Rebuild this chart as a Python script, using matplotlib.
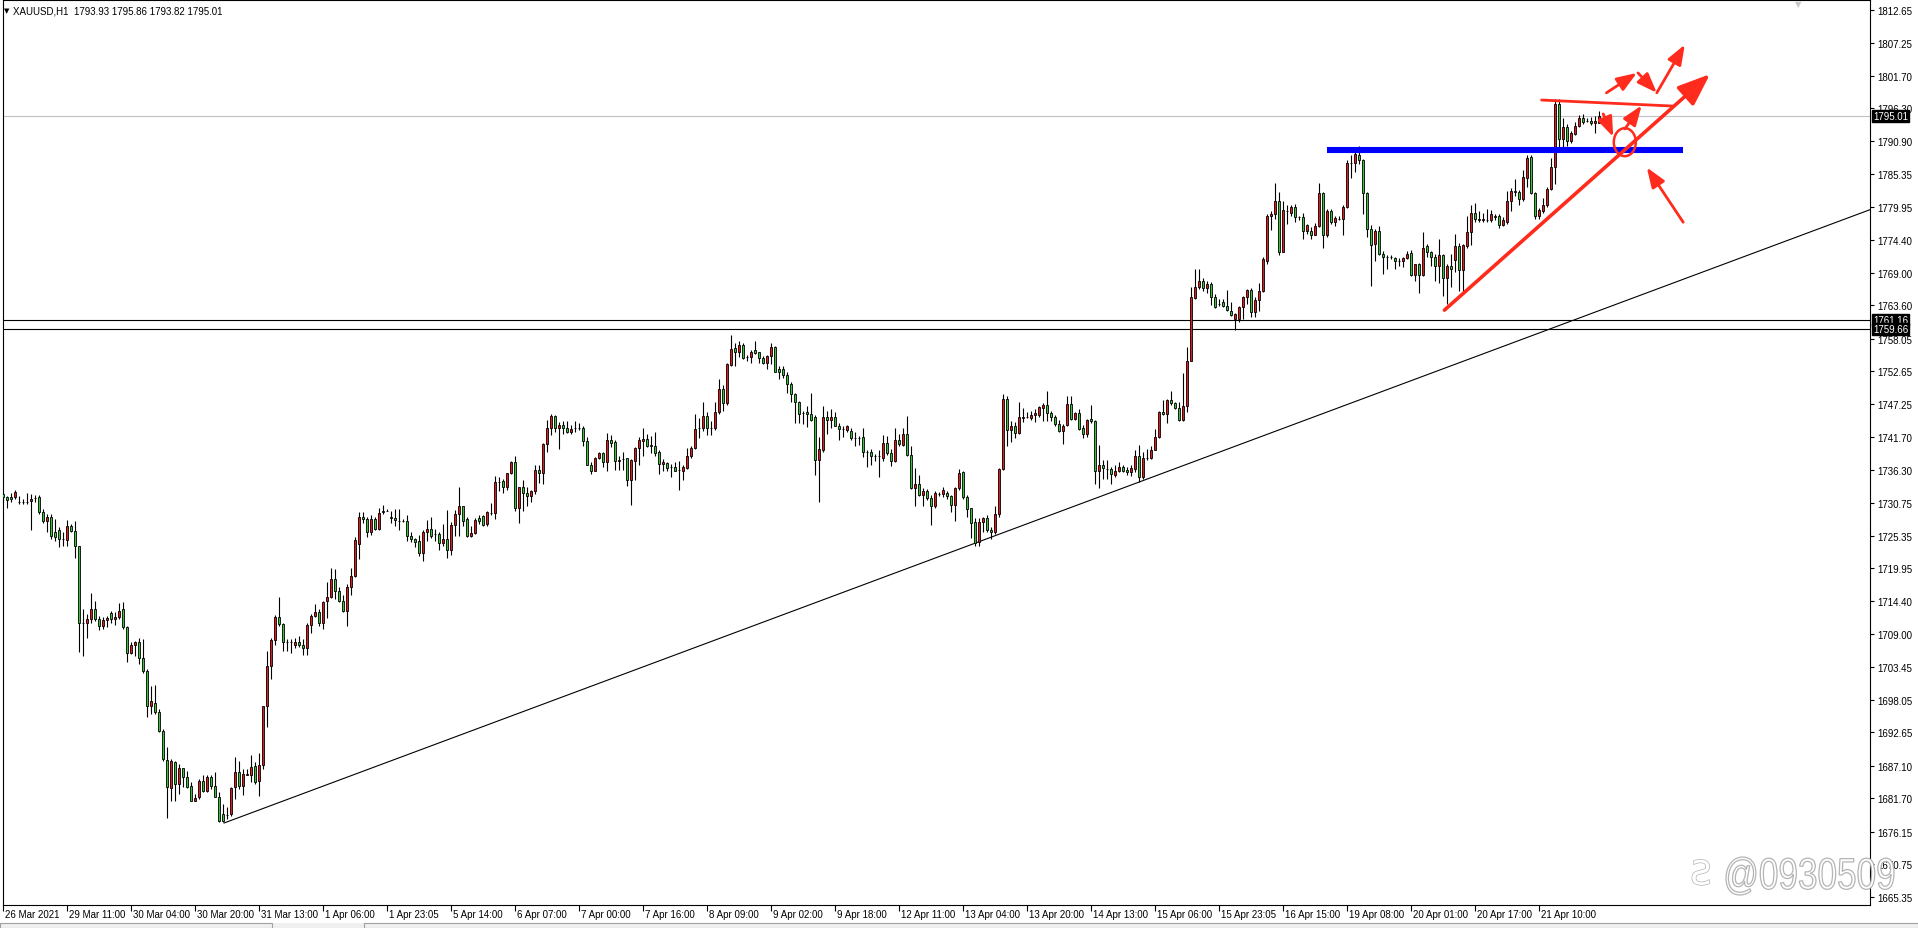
import numpy as np
import matplotlib
matplotlib.use("Agg")
import matplotlib.pyplot as plt
import matplotlib.transforms as mtransforms
from matplotlib.patches import Ellipse, Rectangle, PathPatch
from matplotlib.textpath import TextPath
from matplotlib.font_manager import FontProperties
import matplotlib.patheffects as pe

plt.rcParams['font.family'] = ['Liberation Sans', 'DejaVu Sans']

# XAUUSD H1 candles (bar 0 = 26 Mar 2021)
opens = [
    1732.2, 1731.7, 1731.7, 1731.7, 1731.0, 1731.0, 1731.0, 1731.1, 1731.6, 1731.7,
    1729.2, 1727.7, 1728.4, 1725.9, 1726.3, 1724.7, 1724.6, 1726.9, 1726.1, 1723.7,
    1710.9, 1710.8, 1711.5, 1713.2, 1711.5, 1710.4, 1711.4, 1712.5, 1711.5, 1711.8,
    1713.1, 1710.1, 1705.9, 1707.1, 1707.6, 1705.0, 1702.9, 1697.0, 1697.6, 1696.0,
    1692.9, 1688.1, 1683.4, 1687.8, 1684.1, 1686.7, 1685.2, 1683.7, 1681.3, 1681.9,
    1684.5, 1683.0, 1685.2, 1683.8, 1681.9, 1679.1, 1679.0, 1679.1, 1683.5, 1686.0,
    1683.7, 1685.6, 1685.6, 1687.0, 1684.5, 1687.2, 1697.0, 1703.7, 1708.0, 1711.9,
    1710.7, 1707.6, 1707.6, 1707.2, 1707.7, 1707.2, 1706.6, 1710.5, 1712.0, 1712.6,
    1710.9, 1714.4, 1715.2, 1718.2, 1716.1, 1714.5, 1712.9, 1716.8, 1718.6, 1723.9,
    1728.5, 1728.1, 1725.9, 1728.1, 1726.4, 1729.2, 1729.5, 1728.5, 1728.3, 1727.7,
    1727.7, 1727.7, 1725.2, 1724.8, 1724.4, 1722.4, 1725.9, 1726.4, 1725.6, 1725.6,
    1724.1, 1724.8, 1723.0, 1727.1, 1728.9, 1730.2, 1728.1, 1725.2, 1725.7, 1728.3,
    1728.6, 1727.2, 1729.1, 1729.1, 1734.3, 1734.4, 1733.4, 1735.7, 1737.5, 1729.9,
    1733.4, 1732.5, 1731.9, 1732.7, 1736.2, 1735.7, 1740.6, 1743.3, 1745.2, 1743.2,
    1743.7, 1743.3, 1742.5, 1743.2, 1743.2, 1743.2, 1741.0, 1737.1, 1736.1, 1738.2,
    1739.0, 1737.5, 1741.2, 1740.9, 1737.7, 1738.1, 1738.2, 1734.5, 1737.8, 1739.9,
    1741.1, 1741.4, 1740.4, 1740.2, 1739.2, 1737.3, 1737.4, 1736.8, 1736.8, 1736.2,
    1736.1, 1736.6, 1738.5, 1739.9, 1743.2, 1743.2, 1745.2, 1743.2, 1743.2, 1745.8,
    1749.7, 1747.4, 1753.7, 1756.5, 1755.8, 1757.0, 1755.0, 1755.0, 1756.2, 1755.8,
    1754.8, 1754.1, 1755.1, 1756.6, 1753.1, 1753.1, 1752.1, 1750.5, 1748.9, 1747.5,
    1745.7, 1745.9, 1745.5, 1745.0, 1737.9, 1739.6, 1745.0, 1744.6, 1745.0, 1743.6,
    1743.0, 1742.9, 1742.7, 1741.5, 1741.6, 1741.7, 1739.3, 1739.3, 1738.5, 1738.5,
    1738.3, 1740.8, 1739.0, 1737.8, 1741.3, 1740.4, 1742.3, 1738.8, 1733.2, 1733.9,
    1732.1, 1732.8, 1731.6, 1730.2, 1732.3, 1732.3, 1732.5, 1731.9, 1730.5, 1733.2,
    1735.9, 1731.7, 1729.9, 1727.6, 1724.2, 1727.6, 1728.2, 1726.2, 1725.9, 1729.0,
    1736.4, 1748.1, 1742.9, 1743.6, 1742.4, 1744.9, 1745.0, 1744.9, 1745.3, 1745.3,
    1746.5, 1747.0, 1745.7, 1745.1, 1743.9, 1742.7, 1743.7, 1747.2, 1744.7, 1745.7,
    1743.2, 1742.3, 1744.7, 1744.3, 1736.1, 1737.1, 1736.4, 1736.4, 1735.4, 1736.1,
    1736.8, 1736.2, 1735.9, 1736.4, 1738.6, 1735.0, 1738.2, 1738.2, 1739.6, 1741.7,
    1745.9, 1745.5, 1747.8, 1747.4, 1746.6, 1744.6, 1746.8, 1754.4, 1764.8, 1766.6,
    1767.6, 1766.4, 1767.1, 1764.9, 1763.8, 1764.1, 1763.5, 1762.6, 1761.3, 1761.3,
    1763.3, 1764.9, 1766.1, 1762.5, 1764.5, 1766.0, 1771.0, 1778.4, 1778.7, 1781.0,
    1772.5, 1779.3, 1778.9, 1780.0, 1778.2, 1778.2, 1776.0, 1776.0, 1775.3, 1776.7,
    1782.3, 1775.2, 1779.2, 1777.4, 1777.9, 1777.9, 1780.0, 1787.2, 1787.2, 1788.6,
    1787.7, 1782.2, 1776.3, 1773.8, 1776.0, 1772.2, 1771.6, 1771.6, 1771.5, 1771.0,
    1771.0, 1771.5, 1772.3, 1768.7, 1770.4, 1768.7, 1773.4, 1772.4, 1771.7, 1770.2,
    1772.0, 1768.2, 1770.2, 1771.1, 1773.4, 1769.5, 1773.5, 1775.7, 1778.9, 1778.0,
    1777.7, 1777.8, 1777.7, 1778.5, 1778.4, 1777.0, 1777.4, 1781.0, 1782.6, 1782.4,
    1781.2, 1784.7, 1788.2, 1782.2, 1778.4, 1779.3, 1780.3, 1783.0, 1786.5, 1797.0,
    1791.2, 1793.2, 1790.9, 1792.1, 1793.4, 1794.7, 1794.3, 1794.3, 1793.9, 1793.93,
]
highs = [
    1732.5, 1732.0, 1732.5, 1732.9, 1732.0, 1731.4, 1732.5, 1732.3, 1732.1, 1732.1,
    1729.8, 1728.9, 1728.9, 1728.1, 1726.7, 1725.9, 1728.0, 1727.3, 1727.8, 1723.7,
    1713.2, 1712.3, 1715.8, 1714.5, 1712.0, 1711.8, 1712.0, 1712.9, 1712.6, 1714.2,
    1714.3, 1710.4, 1707.7, 1707.9, 1708.3, 1708.2, 1703.2, 1700.4, 1700.5, 1696.5,
    1693.2, 1690.2, 1688.2, 1687.9, 1687.4, 1686.8, 1686.3, 1684.4, 1682.4, 1684.9,
    1685.5, 1685.6, 1685.5, 1686.0, 1682.7, 1680.8, 1680.2, 1683.5, 1688.5, 1687.9,
    1686.6, 1686.6, 1688.9, 1687.7, 1689.3, 1697.1, 1706.1, 1708.4, 1712.2, 1715.1,
    1710.9, 1708.2, 1708.2, 1708.3, 1708.7, 1708.1, 1710.8, 1712.3, 1714.0, 1713.2,
    1714.5, 1717.6, 1719.9, 1719.8, 1716.8, 1715.4, 1717.3, 1719.9, 1725.1, 1729.3,
    1729.3, 1728.4, 1728.7, 1728.4, 1730.0, 1730.4, 1729.7, 1729.5, 1729.7, 1729.8,
    1728.1, 1728.7, 1725.9, 1724.9, 1725.5, 1726.2, 1727.9, 1728.4, 1726.4, 1725.9,
    1727.3, 1729.6, 1727.6, 1729.6, 1733.5, 1730.3, 1728.4, 1727.0, 1728.3, 1728.7,
    1728.8, 1729.5, 1730.7, 1735.2, 1735.0, 1734.8, 1735.8, 1737.7, 1738.5, 1733.5,
    1734.5, 1733.4, 1732.9, 1737.1, 1737.0, 1740.7, 1744.5, 1745.5, 1745.4, 1744.2,
    1744.3, 1744.3, 1743.8, 1744.3, 1744.1, 1743.6, 1741.8, 1737.6, 1738.4, 1739.2,
    1739.3, 1742.4, 1742.1, 1741.3, 1738.6, 1739.2, 1738.3, 1738.1, 1740.0, 1741.8,
    1743.2, 1742.2, 1741.9, 1742.6, 1739.5, 1738.0, 1737.5, 1737.2, 1737.5, 1737.8,
    1737.0, 1739.9, 1740.3, 1745.5, 1744.9, 1747.6, 1745.9, 1744.3, 1747.5, 1751.4,
    1750.3, 1754.0, 1758.7, 1757.3, 1757.7, 1757.3, 1755.4, 1756.1, 1757.7, 1755.9,
    1755.2, 1755.4, 1757.3, 1756.8, 1753.5, 1753.6, 1752.5, 1750.8, 1749.0, 1747.7,
    1746.0, 1746.8, 1749.0, 1745.3, 1741.7, 1746.9, 1746.0, 1746.4, 1745.8, 1744.0,
    1743.5, 1743.7, 1743.3, 1742.6, 1741.9, 1743.3, 1739.6, 1739.7, 1738.9, 1739.5,
    1742.1, 1741.9, 1739.7, 1743.3, 1742.2, 1743.3, 1745.2, 1740.2, 1736.5, 1735.4,
    1733.2, 1733.1, 1732.1, 1732.8, 1732.6, 1733.4, 1732.8, 1732.1, 1733.4, 1736.4,
    1736.1, 1732.1, 1730.0, 1728.2, 1728.2, 1728.5, 1728.7, 1726.7, 1730.2, 1736.5,
    1748.8, 1748.6, 1744.3, 1744.2, 1747.5, 1746.6, 1745.9, 1746.1, 1746.4, 1746.9,
    1747.4, 1749.3, 1746.0, 1745.4, 1744.5, 1743.9, 1748.6, 1748.6, 1745.9, 1746.4,
    1743.7, 1744.7, 1747.0, 1744.6, 1740.4, 1737.9, 1737.9, 1736.7, 1737.1, 1737.5,
    1737.1, 1736.7, 1737.1, 1739.6, 1740.4, 1739.2, 1739.7, 1740.3, 1743.0, 1746.1,
    1747.8, 1748.0, 1749.3, 1747.6, 1747.5, 1752.4, 1756.6, 1766.7, 1769.7, 1769.6,
    1768.2, 1767.7, 1767.4, 1765.4, 1764.6, 1764.6, 1766.1, 1764.1, 1762.3, 1763.5,
    1765.2, 1766.3, 1766.5, 1765.0, 1767.3, 1771.6, 1778.8, 1779.3, 1783.9, 1782.5,
    1781.0, 1780.2, 1780.2, 1780.4, 1778.5, 1779.0, 1777.1, 1776.6, 1777.2, 1783.9,
    1782.4, 1779.6, 1779.6, 1778.5, 1778.5, 1780.2, 1787.7, 1788.5, 1789.9, 1790.1,
    1787.9, 1782.5, 1777.0, 1776.3, 1776.8, 1772.7, 1772.0, 1772.0, 1771.7, 1771.5,
    1771.7, 1772.7, 1772.8, 1770.5, 1770.6, 1775.7, 1773.8, 1772.7, 1772.1, 1774.6,
    1772.1, 1770.5, 1772.2, 1775.4, 1773.9, 1773.8, 1778.5, 1780.2, 1780.6, 1779.3,
    1779.0, 1779.6, 1779.4, 1778.8, 1778.8, 1778.2, 1782.6, 1783.1, 1784.6, 1782.8,
    1786.0, 1788.5, 1788.6, 1782.4, 1779.7, 1781.5, 1783.2, 1788.1, 1797.9, 1797.9,
    1794.8, 1793.8, 1792.6, 1794.0, 1795.2, 1795.3, 1794.7, 1794.9, 1795.1, 1795.86,
]
lows = [
    1730.9, 1730.0, 1730.9, 1731.5, 1730.6, 1730.6, 1730.6, 1726.2, 1730.9, 1728.9,
    1727.4, 1725.9, 1724.8, 1724.5, 1723.5, 1723.7, 1723.7, 1725.9, 1721.7, 1706.0,
    1705.4, 1708.4, 1710.9, 1711.2, 1709.6, 1709.9, 1710.1, 1710.9, 1710.5, 1711.5,
    1709.9, 1704.4, 1705.7, 1705.4, 1704.0, 1702.5, 1695.2, 1695.7, 1695.7, 1692.7,
    1687.9, 1678.4, 1681.3, 1681.3, 1682.4, 1683.5, 1683.4, 1681.2, 1681.2, 1681.6,
    1682.7, 1682.7, 1683.3, 1681.9, 1677.8, 1677.8, 1678.3, 1678.8, 1681.6, 1683.3,
    1682.2, 1685.5, 1684.4, 1684.1, 1682.1, 1686.6, 1693.5, 1701.5, 1707.1, 1710.4,
    1706.2, 1706.1, 1705.8, 1706.6, 1706.8, 1705.5, 1705.5, 1709.2, 1711.8, 1710.4,
    1709.9, 1711.6, 1714.9, 1714.8, 1714.3, 1712.7, 1710.3, 1715.4, 1718.4, 1721.4,
    1727.5, 1725.1, 1725.4, 1726.2, 1726.2, 1728.9, 1729.4, 1727.4, 1727.0, 1726.3,
    1727.6, 1724.4, 1724.2, 1723.4, 1722.0, 1721.1, 1724.5, 1724.9, 1724.4, 1723.0,
    1723.7, 1721.7, 1722.2, 1725.3, 1725.3, 1727.0, 1725.1, 1725.1, 1725.6, 1727.3,
    1727.0, 1727.0, 1728.8, 1728.1, 1732.8, 1732.4, 1733.0, 1735.6, 1729.5, 1727.5,
    1729.4, 1730.2, 1730.9, 1732.3, 1734.1, 1733.9, 1739.2, 1742.1, 1742.5, 1739.7,
    1742.2, 1742.4, 1742.3, 1742.5, 1742.9, 1740.3, 1737.0, 1735.6, 1736.0, 1738.0,
    1736.7, 1736.1, 1740.1, 1736.3, 1736.2, 1736.3, 1733.6, 1730.5, 1734.5, 1737.0,
    1738.6, 1740.1, 1739.0, 1738.5, 1735.5, 1736.0, 1736.0, 1735.1, 1736.0, 1733.0,
    1734.6, 1736.4, 1738.2, 1739.7, 1741.6, 1742.8, 1742.1, 1742.1, 1742.9, 1745.5,
    1746.0, 1747.1, 1753.5, 1753.5, 1755.0, 1754.7, 1754.4, 1754.1, 1755.5, 1754.0,
    1753.9, 1753.1, 1753.9, 1752.5, 1751.3, 1751.5, 1749.1, 1747.6, 1744.0, 1744.0,
    1743.9, 1743.4, 1744.4, 1735.4, 1731.0, 1739.3, 1742.2, 1743.2, 1743.5, 1741.3,
    1741.7, 1742.6, 1741.3, 1740.2, 1740.4, 1738.4, 1736.7, 1737.0, 1737.8, 1735.1,
    1737.8, 1738.7, 1736.9, 1737.5, 1740.3, 1740.3, 1738.6, 1733.1, 1730.3, 1731.9,
    1730.3, 1731.3, 1727.1, 1730.0, 1732.0, 1731.7, 1731.5, 1729.2, 1727.8, 1733.0,
    1731.4, 1728.4, 1724.9, 1723.6, 1723.7, 1725.9, 1726.0, 1724.8, 1725.6, 1728.4,
    1736.2, 1740.2, 1740.9, 1741.6, 1742.2, 1744.2, 1744.8, 1744.5, 1744.2, 1745.1,
    1744.3, 1744.3, 1744.4, 1743.5, 1742.5, 1740.6, 1743.6, 1744.5, 1744.6, 1742.9,
    1741.5, 1741.7, 1744.0, 1733.9, 1733.2, 1734.7, 1734.7, 1733.9, 1735.1, 1735.9,
    1735.9, 1735.4, 1735.2, 1735.9, 1734.3, 1734.7, 1737.9, 1738.0, 1739.5, 1741.5,
    1745.3, 1744.1, 1747.1, 1746.4, 1744.4, 1744.4, 1745.8, 1754.3, 1764.6, 1766.3,
    1765.9, 1765.6, 1763.7, 1763.2, 1763.5, 1763.4, 1762.7, 1761.9, 1759.5, 1760.9,
    1761.3, 1763.9, 1761.6, 1761.6, 1762.6, 1765.8, 1770.4, 1776.1, 1777.9, 1772.0,
    1772.4, 1777.1, 1778.5, 1777.5, 1777.7, 1774.6, 1775.4, 1774.6, 1775.2, 1776.6,
    1773.1, 1774.9, 1777.1, 1776.8, 1777.8, 1775.3, 1779.8, 1784.7, 1785.7, 1787.1,
    1778.8, 1774.9, 1766.8, 1770.9, 1772.0, 1768.8, 1769.6, 1771.3, 1769.6, 1770.2,
    1770.0, 1771.3, 1768.5, 1767.7, 1765.6, 1768.5, 1771.7, 1770.2, 1767.7, 1767.3,
    1765.2, 1763.8, 1766.6, 1769.1, 1766.0, 1766.0, 1773.2, 1773.7, 1777.5, 1777.5,
    1777.4, 1777.5, 1777.4, 1777.7, 1776.5, 1776.7, 1777.1, 1779.2, 1781.8, 1780.3,
    1781.0, 1783.2, 1782.1, 1777.9, 1778.0, 1779.0, 1779.9, 1782.8, 1783.8, 1789.4,
    1789.9, 1790.1, 1790.6, 1791.9, 1793.2, 1793.8, 1794.0, 1793.6, 1792.3, 1793.82,
]
closes = [
    1731.8, 1731.3, 1731.4, 1732.6, 1731.0, 1731.0, 1731.0, 1731.5, 1731.6, 1729.2,
    1727.7, 1728.4, 1725.2, 1725.1, 1724.7, 1724.7, 1726.9, 1726.1, 1723.7, 1710.9,
    1710.9, 1711.5, 1713.2, 1711.5, 1710.4, 1711.4, 1711.7, 1711.5, 1711.8, 1712.9,
    1710.1, 1705.9, 1707.1, 1707.6, 1705.0, 1702.8, 1697.0, 1697.8, 1696.0, 1692.9,
    1688.2, 1683.5, 1687.9, 1684.1, 1686.7, 1685.2, 1683.6, 1681.3, 1681.7, 1684.6,
    1683.0, 1685.2, 1683.8, 1682.0, 1678.0, 1678.0, 1679.0, 1683.4, 1686.0, 1683.7,
    1685.7, 1685.7, 1686.9, 1684.4, 1687.2, 1697.0, 1703.7, 1708.0, 1711.8, 1710.7,
    1707.6, 1707.6, 1707.6, 1707.7, 1707.2, 1706.6, 1710.5, 1712.0, 1712.6, 1710.9,
    1714.3, 1715.2, 1718.2, 1716.1, 1714.5, 1712.9, 1716.8, 1718.6, 1724.6, 1728.5,
    1728.1, 1725.9, 1728.1, 1726.4, 1729.1, 1729.5, 1729.5, 1728.2, 1727.9, 1727.7,
    1727.7, 1725.2, 1724.7, 1724.3, 1722.4, 1725.9, 1726.4, 1725.3, 1725.6, 1724.1,
    1724.8, 1723.0, 1727.1, 1728.9, 1730.2, 1727.8, 1725.2, 1725.7, 1727.9, 1727.8,
    1727.1, 1729.3, 1729.1, 1734.2, 1734.3, 1733.4, 1735.7, 1737.5, 1729.9, 1733.4,
    1732.4, 1731.9, 1732.7, 1736.2, 1735.7, 1740.6, 1743.3, 1745.2, 1743.2, 1743.7,
    1743.3, 1742.5, 1743.0, 1743.2, 1743.2, 1741.0, 1737.1, 1736.1, 1738.2, 1739.0,
    1737.5, 1741.2, 1740.8, 1737.8, 1737.9, 1738.1, 1734.5, 1737.9, 1739.9, 1741.2,
    1741.4, 1740.3, 1740.2, 1739.0, 1737.3, 1737.5, 1736.5, 1736.8, 1736.1, 1736.2,
    1736.8, 1738.5, 1739.9, 1743.1, 1743.2, 1745.2, 1743.2, 1743.2, 1745.8, 1749.7,
    1747.4, 1753.9, 1756.3, 1755.8, 1757.0, 1754.8, 1755.0, 1755.8, 1755.7, 1754.8,
    1754.1, 1755.1, 1756.6, 1752.6, 1752.6, 1752.1, 1750.5, 1748.9, 1747.5, 1745.5,
    1745.7, 1745.5, 1744.6, 1737.9, 1739.7, 1745.0, 1744.6, 1745.0, 1743.6, 1743.1,
    1743.0, 1743.5, 1741.5, 1741.5, 1741.6, 1739.2, 1739.3, 1738.5, 1738.5, 1738.5,
    1740.8, 1739.0, 1737.8, 1741.3, 1740.5, 1742.3, 1738.8, 1733.2, 1733.9, 1732.1,
    1732.8, 1731.6, 1730.3, 1732.4, 1732.3, 1733.0, 1731.9, 1730.5, 1733.2, 1735.7,
    1731.7, 1729.8, 1727.4, 1724.1, 1727.6, 1728.2, 1726.2, 1725.9, 1729.0, 1736.4,
    1748.1, 1742.9, 1743.6, 1742.4, 1745.0, 1745.1, 1745.0, 1745.4, 1745.7, 1746.7,
    1747.0, 1745.7, 1745.1, 1743.9, 1742.7, 1743.6, 1747.2, 1744.7, 1745.7, 1743.0,
    1742.3, 1744.6, 1744.3, 1736.1, 1737.1, 1736.5, 1736.4, 1735.6, 1736.1, 1736.8,
    1736.1, 1735.9, 1736.5, 1738.6, 1735.0, 1738.2, 1738.2, 1739.6, 1741.7, 1745.8,
    1745.5, 1747.8, 1747.4, 1746.6, 1744.6, 1746.8, 1754.4, 1764.9, 1766.6, 1767.6,
    1766.5, 1767.1, 1764.9, 1763.4, 1763.8, 1763.5, 1762.8, 1762.0, 1762.2, 1763.3,
    1765.0, 1766.1, 1762.5, 1764.5, 1766.0, 1771.3, 1778.4, 1778.8, 1781.0, 1772.5,
    1779.4, 1779.3, 1780.0, 1778.2, 1778.2, 1776.0, 1777.0, 1775.3, 1776.7, 1782.3,
    1775.2, 1779.2, 1777.5, 1778.1, 1777.9, 1780.0, 1787.2, 1787.2, 1788.7, 1787.7,
    1782.2, 1776.3, 1773.7, 1776.0, 1772.2, 1771.6, 1771.6, 1771.6, 1771.0, 1771.0,
    1771.5, 1772.2, 1768.7, 1770.4, 1768.7, 1773.2, 1772.4, 1771.6, 1770.2, 1772.0,
    1768.2, 1770.2, 1769.6, 1773.4, 1769.5, 1773.6, 1775.7, 1778.9, 1778.0, 1777.7,
    1777.9, 1777.8, 1778.8, 1778.3, 1777.0, 1777.7, 1781.0, 1782.6, 1782.4, 1781.2,
    1784.9, 1788.1, 1782.2, 1778.4, 1779.4, 1780.3, 1783.0, 1786.5, 1797.0, 1791.2,
    1793.2, 1790.9, 1792.3, 1793.4, 1794.8, 1794.1, 1794.3, 1793.9, 1794.3, 1795.01,
]

# time axis labels, one every 16 bars
time_labels = ["26 Mar 2021", "29 Mar 11:00", "30 Mar 04:00", "30 Mar 20:00", "31 Mar 13:00",
               "1 Apr 06:00", "1 Apr 23:05", "5 Apr 14:00", "6 Apr 07:00", "7 Apr 00:00",
               "7 Apr 16:00", "8 Apr 09:00", "9 Apr 02:00", "9 Apr 18:00", "12 Apr 11:00",
               "13 Apr 04:00", "13 Apr 20:00", "14 Apr 13:00", "15 Apr 06:00", "15 Apr 23:05",
               "16 Apr 15:00", "19 Apr 08:00", "20 Apr 01:00", "20 Apr 17:00", "21 Apr 10:00"]
bars_per_label = 16

price_labels = ["1812.65", "1807.25", "1801.70", "1796.30", "1790.90", "1785.35", "1779.95",
                "1774.40", "1769.00", "1763.60", "1758.05", "1752.65", "1747.25", "1741.70",
                "1736.30", "1730.75", "1725.35", "1719.95", "1714.40", "1709.00", "1703.45",
                "1698.05", "1692.65", "1687.10", "1681.70", "1676.15", "1670.75", "1665.35"]

# drawn objects (bar index, price)
hlines_black = [1761.16, 1759.66]
bid = 1795.01
trend_start = (55.2, 1677.6)
trend_slope = 0.2476          # $ per bar
blue_level = 1789.35
blue_span = (330.9, 419.9)

red_trend = ((360.3, 1762.8), (426.7, 1802.0))
red_top_line = ((384.6, 1797.7), (417.5, 1796.7))
red_arrows = [((400.8, 1798.9), (408.4, 1802.2)),
              ((408.7, 1802.2), (413.4, 1798.9)),
              ((413.4, 1798.9), (420.4, 1806.9)),
              ((405.4, 1792.9), (409.6, 1796.8)),
              ((400.0, 1795.4), (402.5, 1791.6)),
              ((420.0, 1777.4), (410.9, 1786.5))]
circle_center = (405.4, 1790.7)

W, H = 1918, 929
fig = plt.figure(figsize=(W / 100, H / 100), dpi=100)
fig.patch.set_facecolor('white')
ax = fig.add_axes([2.5 / W, 23 / H, (1870 - 2.5) / W, 905 / H])

o = np.array(opens); c = np.array(closes)
hi = np.maximum(np.array(highs), np.maximum(o, c))
lo = np.minimum(np.array(lows), np.minimum(o, c))
x = np.arange(len(o))
up = c >= o
cols = np.where(up, '#e21a1a', '#3cc23c')

ax.vlines(x, lo, hi, color='black', lw=0.8, zorder=3)
ax.bar(x, c - o, bottom=o, width=0.58, color=cols, edgecolor='black', linewidth=0.6, zorder=4)

ax.set_xlim(-0.2, 466.7)
ax.set_ylim(1663.98, 1814.32)
x0, x1 = ax.get_xlim()

# lines
for lv in hlines_black:
    ax.axhline(lv, color='black', lw=0.8, zorder=2)
ax.axhline(bid, color='#c0c0c0', lw=0.8, zorder=1)
ax.plot([trend_start[0], x1], [trend_start[1], trend_start[1] + trend_slope * (x1 - trend_start[0])],
        color='black', lw=0.8, zorder=2)
ax.hlines(blue_level, blue_span[0], blue_span[1], color='#0000ff', lw=4.4, zorder=5, capstyle='butt')

red = '#ff2b1c'
ax.annotate('', xy=red_trend[1], xytext=red_trend[0],
            arrowprops=dict(arrowstyle='-|>,head_length=0.9,head_width=0.35', color=red, lw=2.6,
                            mutation_scale=22, shrinkA=0, shrinkB=0), zorder=6)
ax.plot(*zip(*red_top_line), color=red, lw=2.0, zorder=6, solid_capstyle='round')
for p0, p1 in red_arrows:
    ax.annotate('', xy=p1, xytext=p0,
                arrowprops=dict(arrowstyle='-|>,head_length=0.8,head_width=0.3', color=red, lw=2.0,
                                mutation_scale=15, shrinkA=0, shrinkB=0), zorder=6)
ax.add_patch(Ellipse(circle_center, 5.5, 4.65, fill=False, ec=red, lw=1.8, zorder=6))

# axes styling
for s in ax.spines.values():
    s.set_linewidth(0.8)
    s.set_color('black')
ax.yaxis.tick_right()
ax.set_yticks([float(v) for v in price_labels])
ax.set_yticklabels(price_labels)
ax.tick_params(axis='y', direction='out', length=3, width=0.8, pad=2, labelsize=7)
ax.set_xticks(np.arange(len(time_labels)) * bars_per_label)
ax.set_xticklabels(time_labels)
ax.tick_params(axis='x', direction='out', length=4, width=0.8, pad=-1, labelsize=7)
for lab in ax.get_xticklabels():
    lab.set_horizontalalignment('left')
    lab.set_transform(lab.get_transform() + mtransforms.ScaledTranslation(2 / 100, 0, fig.dpi_scale_trans))

# price boxes on the axis
tr = mtransforms.blended_transform_factory(ax.transAxes, ax.transData)
for lv, txt in [(bid, '1795.01'), (1761.16, '1761.16'), (1759.66, '1759.66')]:
    ax.text(1.0 + 3 / 1867.5, lv, txt, transform=tr, ha='left', va='center', fontsize=7,
            color='white', zorder=10, clip_on=False,
            bbox=dict(boxstyle='square,pad=0.12', fc='black', ec='black'))

# header
fig.text(4 / W, 1 - 11 / H, '\u25bc', fontsize=5, family='DejaVu Sans', va='center', ha='left')
fig.text(13 / W, 1 - 11 / H, 'XAUUSD,H1  1793.93 1795.86 1793.82 1795.01', fontsize=7,
         va='center', ha='left')
fig.text(1798 / W, 1 - 5 / H, '\u25bc', fontsize=6, family='DejaVu Sans', color='#c8c8c8',
         va='center', ha='center')

# watermark: outlined, horizontally squeezed text
tp = TextPath((0, 0), '@0930509', size=40, prop=FontProperties(family='Liberation Sans'))
bb = tp.get_extents()
wm_tr = (mtransforms.Affine2D().translate(-bb.x0, -bb.y0)
         .scale(168 / bb.width, 38 / bb.height).translate(1726, H - 896))
fig.add_artist(PathPatch(wm_tr.transform_path(tp), transform=mtransforms.IdentityTransform(),
                         fc='white', ec='#b4b4b4', lw=0.9, zorder=20))
fig.text(1701 / W, 1 - 876 / H, '\u01a7', fontsize=24, family='DejaVu Sans', color='white',
         va='center', ha='center', zorder=20,
         path_effects=[pe.withStroke(linewidth=1.0, foreground='#b4b4b4')])

# bottom tab strip
fig.add_artist(Rectangle((0, 0), 1, 5 / H, transform=fig.transFigure, fc='#f0f0f0', ec='none'))
fig.add_artist(Rectangle((0, 0), 272 / W, 5 / H, transform=fig.transFigure, fc='#f0f0f0', ec='#a0a0a0', lw=0.8))
fig.add_artist(Rectangle((364 / W, 0), 1 - 364 / W, 5 / H, transform=fig.transFigure, fc='#f0f0f0', ec='#a0a0a0', lw=0.8))

fig.savefig('out.png', dpi=100, facecolor='white')
